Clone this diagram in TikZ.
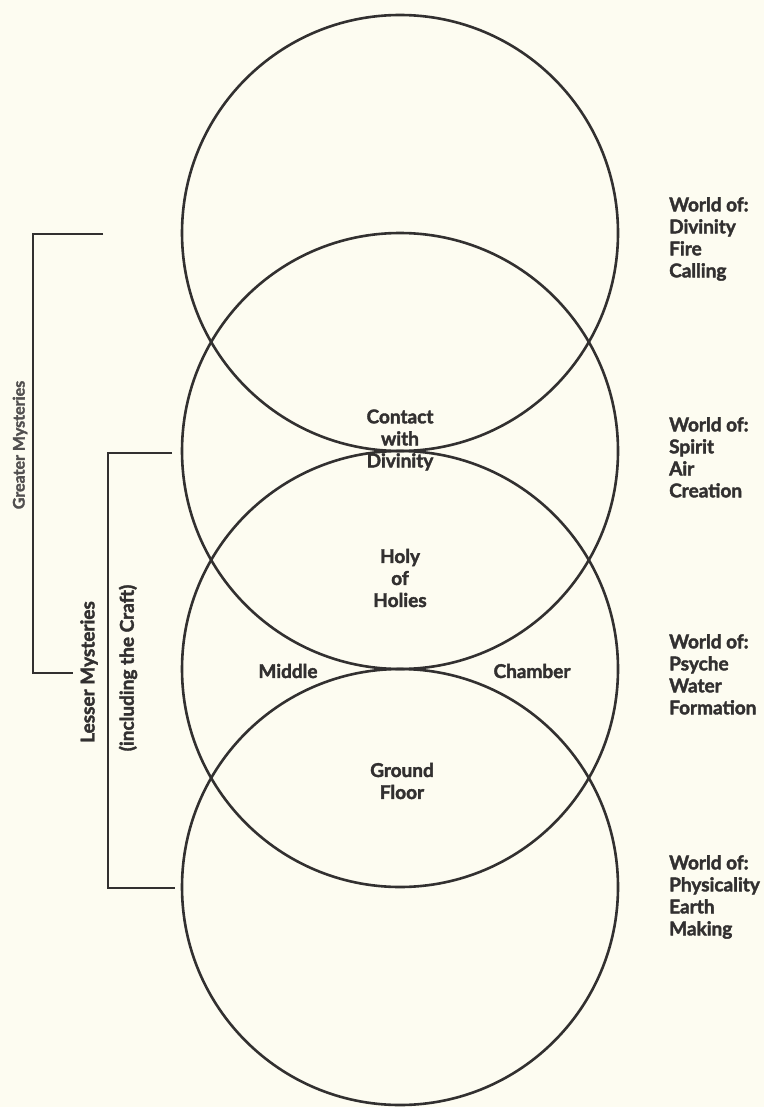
\documentclass[tikz,border=0pt]{standalone}
\usepackage{fontspec}
\setmainfont{Lato}[BoldFeatures={FakeBold=2}]
\definecolor{bg}{RGB}{253,252,241}
\definecolor{ink}{RGB}{50,48,48}
\begin{document}
\begin{tikzpicture}[x=1pt,y=-1pt,
  ring/.style={circle, draw=ink, line width=2.6pt, minimum size=436pt, inner sep=0pt},
  lbl/.style={font=\fontsize{19}{22}\selectfont\bfseries, text=ink, align=center, inner sep=0pt},
  world/.style={font=\fontsize{19}{22}\selectfont\bfseries, text=ink, align=left, anchor=north west, inner sep=0pt},
  side/.style={font=\fontsize{19}{22}\selectfont\bfseries, text=ink, rotate=90, inner sep=0pt},
  sidelight/.style={font=\fontsize{16}{20}\selectfont\bfseries, text=ink!85, rotate=90, inner sep=0pt},
  brk/.style={draw=ink, line width=2.6pt}]
\fill[bg] (0,0) rectangle (764,1107);
\useasboundingbox (0,0) rectangle (764,1107);
% circles
\node[ring] (c1) at (400,233) {};
\node[ring] (c2) at (400,451) {};
\node[ring] (c3) at (400,669) {};
\node[ring] (c4) at (400,887) {};
% centre labels
\node[lbl] (contact) at (400,440) {Contact\\with\\Divinity};
\node[lbl] (holy) at (400,578) {Holy\\of\\Holies};
\node[lbl] (middle) at (288,671) {Middle};
\node[lbl] (chamber) at (532,671) {Chamber};
\node[lbl] (ground) at (402,781) {Ground\\Floor};
% right labels
\node[world] (w1) at (669,197) {World of:\\Divinity\\Fire\\Calling};
\node[world] (w2) at (669,417) {World of:\\Spirit\\Air\\Creation};
\node[world] (w3) at (669,634) {World of:\\Psyche\\Water\\Formation};
\node[world] (w4) at (669,855) {World of:\\Physicality\\Earth\\Making};
% brackets
\coordinate (g1) at (103,234);
\coordinate (g2) at (33,234);
\coordinate (g3) at (33,673);
\coordinate (g4) at (73,673);
\draw[brk] (g1) -- (g2) -- (g3) -- (g4);
\coordinate (l1) at (172,453);
\coordinate (l2) at (108,453);
\coordinate (l3) at (108,888);
\coordinate (l4) at (175,888);
\draw[brk] (l1) -- (l2) -- (l3) -- (l4);
\node[sidelight] (greater) at (20,445) {Greater Mysteries};
\node[side] (lesser) at (89,672) {Lesser Mysteries};
\node[side] (incl) at (128,668) {(including the Craft)};
\end{tikzpicture}
\end{document}
